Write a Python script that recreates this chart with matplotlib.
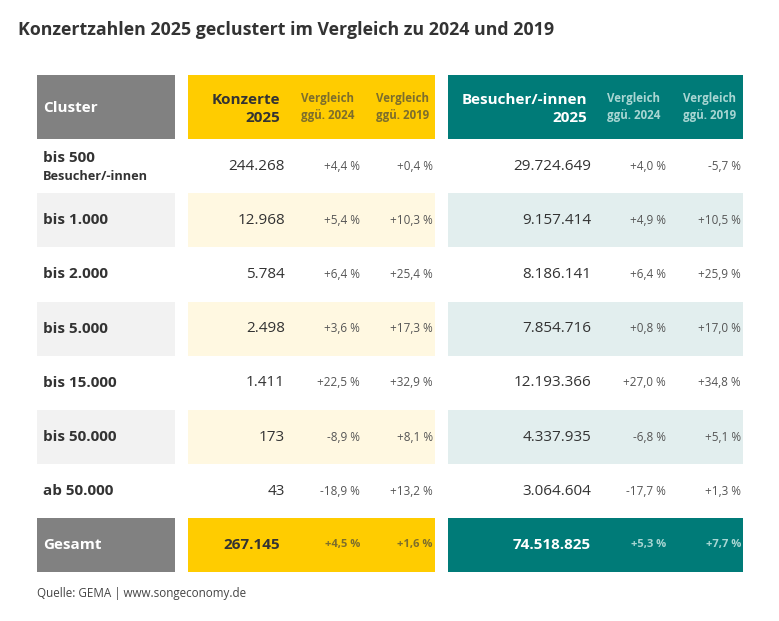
import matplotlib.pyplot as plt
from matplotlib.patches import Rectangle

# --- Daten ---
TITLE = "Konzertzahlen 2025 geclustert im Vergleich zu 2024 und 2019"
SOURCE = "Quelle: GEMA | www.songeconomy.de"

clusters = ["bis 500", "bis 1.000", "bis 2.000", "bis 5.000",
            "bis 15.000", "bis 50.000", "ab 50.000"]
konzerte = ["244.268", "12.968", "5.784", "2.498", "1.411", "173", "43"]
konz_2024 = ["+4,4 %", "+5,4 %", "+6,4 %", "+3,6 %", "+22,5 %", "-8,9 %", "-18,9 %"]
konz_2019 = ["+0,4 %", "+10,3 %", "+25,4 %", "+17,3 %", "+32,9 %", "+8,1 %", "+13,2 %"]
besucher = ["29.724.649", "9.157.414", "8.186.141", "7.854.716",
            "12.193.366", "4.337.935", "3.064.604"]
bes_2024 = ["+4,0 %", "+4,9 %", "+6,4 %", "+0,8 %", "+27,0 %", "-6,8 %", "-17,7 %"]
bes_2019 = ["-5,7 %", "+10,5 %", "+25,9 %", "+17,0 %", "+34,8 %", "+5,1 %", "+1,3 %"]

gesamt = ["Gesamt", "267.145", "+4,5 %", "+1,6 %", "74.518.825", "+5,3 %", "+7,7 %"]

# --- Farben / Layout (Pixel) ---
GRAY = "#818181"
YELLOW = "#ffcc00"
TEAL = "#007b78"
L_GRAY = "#f2f2f2"
L_YELLOW = "#fff8e1"
L_TEAL = "#e2eeee"
TXT = "#333333"
PCT = "#555555"
OLIVE = "#7d6e2c"
L_TEAL_TXT = "#a9d6d3"

plt.rcParams["font.family"] = ["Open Sans", "DejaVu Sans"]

W, H = 779, 621
fig = plt.figure(figsize=(W / 100, H / 100), dpi=100)
ax = fig.add_axes([0, 0, 1, 1])
ax.set_xlim(0, W)
ax.set_ylim(H, 0)
ax.axis("off")

# Spaltenblöcke
blocks = [(37, 175), (188, 435), (448, 743)]
header_top, header_bot = 75, 139
row_top = 139
row_h = 54.2
gesamt_top, gesamt_bot = 518, 572

# Textpositionen
x_label = 43
x_konz = 285
x_k24, x_k19 = 360, 433
x_bes = 591
x_b24, x_b19 = 666, 741

FS_BIG = 11
FS_PCT = 8.5
FS_HDR = 8.3

ax.text(18, 30, TITLE, fontsize=12.8, fontweight="bold", color=TXT,
        va="center", ha="left")

# Kopfzeile
for (x0, x1), col in zip(blocks, [GRAY, YELLOW, TEAL]):
    ax.add_patch(Rectangle((x0, header_top), x1 - x0, header_bot - header_top,
                           color=col, lw=0))
hc = (header_top + header_bot) / 2
ax.text(x_label, hc + 1, "Cluster", fontsize=FS_BIG, fontweight="bold",
        color="white", va="center")
ax.text(280, hc + 2, "Konzerte\n2025", fontsize=FS_BIG, fontweight="bold",
        color=TXT, va="center", ha="right", linespacing=1.45)
ax.text(587, hc + 2, "Besucher/-innen\n2025", fontsize=FS_BIG, fontweight="bold",
        color="white", va="center", ha="right", linespacing=1.45)
for xc, col in [(328, OLIVE), (403, OLIVE), (634, L_TEAL_TXT), (710, L_TEAL_TXT)]:
    year = "2024" if xc in (328, 634) else "2019"
    ax.text(xc, hc, "Vergleich\nggü. " + year, fontsize=FS_HDR, fontweight="bold",
            color=col, va="center", ha="center", linespacing=1.4)

# Datenzeilen
for i, name in enumerate(clusters):
    y0 = row_top + i * row_h
    yc = y0 + row_h / 2
    if i % 2 == 1:
        for (x0, x1), col in zip(blocks, [L_GRAY, L_YELLOW, L_TEAL]):
            ax.add_patch(Rectangle((x0, y0), x1 - x0, row_h, color=col, lw=0))
    if i == 0:
        ax.text(x_label, yc - 8, name, fontsize=FS_BIG, fontweight="bold",
                color=TXT, va="center")
        ax.text(x_label, yc + 10, "Besucher/-innen", fontsize=9.2,
                fontweight="bold", color=TXT, va="center")
    else:
        ax.text(x_label, yc, name, fontsize=FS_BIG, fontweight="bold",
                color=TXT, va="center")
    ax.text(x_konz, yc, konzerte[i], fontsize=FS_BIG, color=TXT, va="center", ha="right")
    ax.text(x_k24, yc, konz_2024[i], fontsize=FS_PCT, color=PCT, va="center", ha="right")
    ax.text(x_k19, yc, konz_2019[i], fontsize=FS_PCT, color=PCT, va="center", ha="right")
    ax.text(x_bes, yc, besucher[i], fontsize=FS_BIG, color=TXT, va="center", ha="right")
    ax.text(x_b24, yc, bes_2024[i], fontsize=FS_PCT, color=PCT, va="center", ha="right")
    ax.text(x_b19, yc, bes_2019[i], fontsize=FS_PCT, color=PCT, va="center", ha="right")

# Gesamtzeile
for (x0, x1), col in zip(blocks, [GRAY, YELLOW, TEAL]):
    ax.add_patch(Rectangle((x0, gesamt_top), x1 - x0, gesamt_bot - gesamt_top,
                           color=col, lw=0))
gc = (gesamt_top + gesamt_bot) / 2
ax.text(x_label, gc, gesamt[0], fontsize=FS_BIG, fontweight="bold", color="white", va="center")
ax.text(x_konz - 5, gc, gesamt[1], fontsize=FS_BIG, fontweight="bold", color=TXT,
        va="center", ha="right")
ax.text(x_k24, gc, gesamt[2], fontsize=8, fontweight="bold", color=OLIVE,
        va="center", ha="right")
ax.text(x_k19, gc, gesamt[3], fontsize=8, fontweight="bold", color=OLIVE,
        va="center", ha="right")
ax.text(x_bes, gc, gesamt[4], fontsize=FS_BIG, fontweight="bold", color="white",
        va="center", ha="right")
ax.text(x_b24, gc, gesamt[5], fontsize=8, fontweight="bold", color=L_TEAL_TXT,
        va="center", ha="right")
ax.text(x_b19, gc, gesamt[6], fontsize=8, fontweight="bold", color=L_TEAL_TXT,
        va="center", ha="right")

ax.text(37, 594, SOURCE, fontsize=8.4, color="#444444", va="center")

fig.savefig("out.png", dpi=100)
